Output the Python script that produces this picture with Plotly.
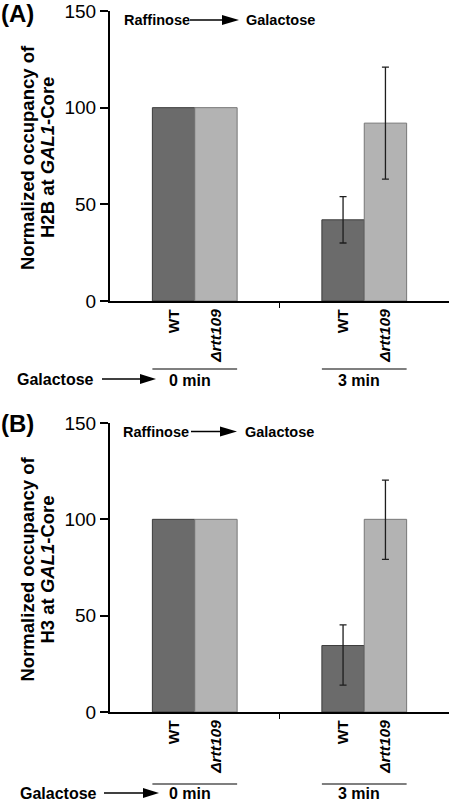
import plotly.graph_objects as go

# ---------------- data ----------------
groups = ["0 min", "3 min"]
strains = ["WT", "Δrtt109"]
h2b_wt = [100, 42]
h2b_rtt = [100, 92]
h2b_wt_err_plus = [None, 12]
h2b_wt_err_minus = [None, 12]
h2b_rtt_err_plus = [None, 29]
h2b_rtt_err_minus = [None, 29]
h3_wt = [100, 34.5]
h3_rtt = [100, 100]
h3_wt_err_plus = [None, 10.7]
h3_wt_err_minus = [None, 20.5]
h3_rtt_err_plus = [None, 20.4]
h3_rtt_err_minus = [None, 20.8]
y_ticks = [0, 50, 100, 150]

W, H = 450, 801
FONT = "Liberation Sans, Arial, sans-serif"
WT_FILL, WT_LINE = "#6b6b6b", "#3c3c3c"
RTT_FILL, RTT_LINE = "#b3b3b3", "#777777"
ERR = "#1e1e1e"


def X(px):
    return px / W


def Y(py):
    return 1 - py / H


xpos = [i + 0.5 for i in range(len(groups))]
bw = 0.25
label_pos = [p + d for p in xpos for d in (-bw / 2, bw / 2)]
label_txt = ["<b>WT</b>", "<b><i>Δrtt109</i></b>"] * len(groups)

fig = go.Figure()


def add_panel(row, wt, rtt, wtp, wtm, rp, rm):
    xa = "x" if row == 1 else "x2"
    ya = "y" if row == 1 else "y2"
    for vals, plus, minus, off, fill, line, nm in (
            (wt, wtp, wtm, -bw, WT_FILL, WT_LINE, strains[0]),
            (rtt, rp, rm, 0, RTT_FILL, RTT_LINE, strains[1])):
        for i in range(len(groups)):
            err = None
            if plus[i] is not None:
                err = dict(type="data", symmetric=False, array=[plus[i]],
                           arrayminus=[minus[i]], color=ERR, thickness=1.3,
                           width=3.5)
            fig.add_trace(go.Bar(
                x=[xpos[i]], y=[vals[i]], width=bw, offset=off,
                xaxis=xa, yaxis=ya, name=nm,
                marker=dict(color=fill, line=dict(color=line, width=1)),
                error_y=err))


add_panel(1, h2b_wt, h2b_rtt, h2b_wt_err_plus, h2b_wt_err_minus,
          h2b_rtt_err_plus, h2b_rtt_err_minus)
add_panel(2, h3_wt, h3_rtt, h3_wt_err_plus, h3_wt_err_minus,
          h3_rtt_err_plus, h3_rtt_err_minus)

xdom = [X(110), X(449)]
axis_x = dict(
    domain=xdom, range=[0, len(groups)], showline=True, linecolor="black",
    linewidth=2, showgrid=False, zeroline=False, tickmode="array",
    tickvals=label_pos, ticktext=label_txt, tickangle=-90, ticks="",
    tickfont=dict(family=FONT, size=15.5, color="black"),
    minor=dict(tickmode="array", tickvals=[1], ticks="outside", ticklen=5,
               tickwidth=1.5, tickcolor="black"),
    fixedrange=True, automargin=False,
)
axis_y = dict(
    range=[0, 150], tickvals=y_ticks, showline=True, linecolor="black",
    linewidth=2, ticks="outside", ticklen=8, tickwidth=2, tickcolor="black",
    showgrid=False, zeroline=False,
    tickfont=dict(family=FONT, size=19, color="black"), fixedrange=True,
    automargin=False,
)

fig.update_layout(
    width=W, height=H, margin=dict(l=0, r=0, t=0, b=0, pad=0),
    paper_bgcolor="white", plot_bgcolor="white", showlegend=False,
    barmode="overlay",
    xaxis=dict(axis_x, anchor="y"),
    yaxis=dict(axis_y, domain=[Y(301), Y(11)], anchor="x"),
    xaxis2=dict(axis_x, anchor="y2"),
    yaxis2=dict(axis_y, domain=[Y(712), Y(423)], anchor="x2"),
)

ann = []
shapes = []


def txt(x, y, text, size, xanchor="center", yanchor="middle", angle=0,
        xref="paper"):
    ann.append(dict(x=x, y=y, xref=xref, yref="paper", text=text,
                    showarrow=False, xanchor=xanchor, yanchor=yanchor,
                    textangle=angle,
                    font=dict(family=FONT, size=size, color="black")))


def arrow(x0, x1, xh, y, half=5):
    shapes.append(dict(type="line", xref="paper", yref="paper",
                       x0=X(x0), x1=X(xh), y0=Y(y), y1=Y(y),
                       line=dict(color="black", width=1.5)))
    shapes.append(dict(type="path", xref="paper", yref="paper",
                       path=f"M {X(xh)} {Y(y - half)} L {X(x1)} {Y(y)} L {X(xh)} {Y(y + half)} Z",
                       fillcolor="black", line=dict(color="black", width=0)))


panels = [
    dict(letter="(A)", prot="H2B", xa="x", top=11, bot=301, letter_y=13,
         raf_y=20, under_y=369, min_y=380.5, gal_y=379,
         raf=(122, 190, 222, 239, 244), galx=(15, 102, 140, 156)),
    dict(letter="(B)", prot="H3", xa="x2", top=423, bot=712, letter_y=424,
         raf_y=431.5, under_y=784, min_y=793, gal_y=793,
         raf=(121, 191, 220, 237, 243), galx=(18, 104, 143, 159)),
]

for p in panels:
    txt(X(-1), Y(p["letter_y"]), "<b>" + p["letter"] + "</b>", 24,
        xanchor="left")
    cy = (p["top"] + p["bot"]) / 2 + 2
    txt(X(27), Y(cy), "<b>Normalized occupancy of</b>", 18.5, angle=-90)
    txt(X(47), Y(cy), "<b>" + p["prot"] + " at <i>GAL1</i>-Core</b>", 18.5,
        angle=-90)
    r = p["raf"]
    txt(X(r[0]), Y(p["raf_y"]), "<b>Raffinose</b>", 14.5, xanchor="left")
    arrow(r[1], r[3], r[2], p["raf_y"])
    txt(X(r[4]), Y(p["raf_y"]), "<b>Galactose</b>", 14.5, xanchor="left")
    g = p["galx"]
    txt(X(g[0]), Y(p["gal_y"]), "<b>Galactose</b>", 16, xanchor="left")
    arrow(g[1], g[3], g[2], p["gal_y"])
    for i, gname in enumerate(groups):
        shapes.append(dict(type="line", xref=p["xa"], yref="paper",
                           x0=xpos[i] - bw, x1=xpos[i] + bw,
                           y0=Y(p["under_y"]), y1=Y(p["under_y"]),
                           line=dict(color="black", width=1.2)))
        txt(xpos[i] - 0.03, Y(p["min_y"]), "<b>" + gname + "</b>", 16,
            xref=p["xa"])

fig.update_layout(annotations=ann, shapes=shapes)
fig.write_html(
    "out.html",
    config={"displayModeBar": False, "staticPlot": True},
    post_script="document.body.style.margin='0';document.body.style.padding='0';"
                "document.body.style.overflow='hidden';",
)
